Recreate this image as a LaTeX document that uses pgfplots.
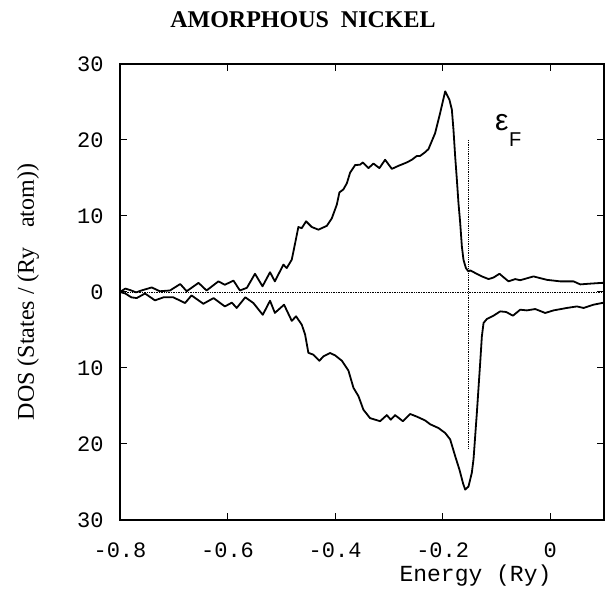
\documentclass[border=0pt]{standalone}
\usepackage{pgfplots}
\pgfplotsset{compat=1.18}
\usepackage{fontspec}
\setmainfont{Liberation Serif}
\newfontfamily\cour{Liberation Mono}
\newfontfamily\helv{Liberation Sans}

\begin{document}
\begin{tikzpicture}
\path[use as bounding box] (0pt,0pt) rectangle (606pt,589pt);
\node[font=\bfseries\fontsize{24}{24}\selectfont] at (303pt,569pt) {AMORPHOUS\ \ NICKEL};
\begin{axis}[
  at={(120pt,69pt)}, anchor=south west,
  scale only axis, width=484pt, height=456pt,
  xmin=-0.8, xmax=0.1, ymin=-30, ymax=30,
  xtick={-0.8,-0.6,-0.4,-0.2,0},
  xticklabels={-0.8,-0.6,-0.4,-0.2,0},
  ytick={-30,-20,-10,0,10,20,30},
  yticklabels={30,20,10,0,10,20,30},
  minor tick num=0,
  tick align=inside,
  major tick length=7pt,
  tick style={line width=1pt, black},
  axis line style={line width=1.5pt},
  ticklabel style={font=\cour\fontsize{22}{22}\selectfont},
  xticklabel style={yshift=-19pt},
  yticklabel style={xshift=-13pt},
  every axis y label/.style={at={(axis description cs:-0.19,0.5)}, rotate=90, anchor=center,
    font=\fontsize{24}{24}\selectfont},
  ylabel={DOS (States / (Ry\hspace{0.8em}atom))},
  clip=false,
]
% zero line and Fermi level
\addplot[densely dotted, line width=0.7pt] coordinates {(-0.8,0) (0.1,0)};
\addplot[densely dotted, line width=0.8pt] coordinates {(-0.1526,20) (-0.1526,-20.7)};
% majority band
\addplot[line width=1.8pt, line join=round] coordinates {
(-0.800,0.0) (-0.790,0.45) (-0.781,0.25) (-0.770,-0.05) (-0.760,0.2) (-0.741,0.6)
(-0.726,0.1) (-0.707,0.2) (-0.688,1.05) (-0.676,0.1) (-0.654,1.2) (-0.639,0.2)
(-0.617,1.4) (-0.605,0.95) (-0.589,1.5) (-0.577,0.2) (-0.564,0.55) (-0.549,2.4)
(-0.535,0.75) (-0.521,2.6) (-0.512,1.4) (-0.4962,3.6) (-0.4899,3.15) (-0.4806,4.25)
(-0.4744,6.4) (-0.4683,8.55) (-0.4620,8.4) (-0.4540,9.3) (-0.4434,8.55) (-0.4311,8.2)
(-0.4155,8.7) (-0.4061,9.7) (-0.3968,11.5) (-0.3920,13.1) (-0.3846,13.5) (-0.3782,14.3)
(-0.3721,15.7) (-0.3628,16.7) (-0.3535,16.75) (-0.3485,17.05) (-0.3380,16.3) (-0.3287,16.9)
(-0.3176,16.3) (-0.3070,17.4) (-0.2945,16.2) (-0.2822,16.6) (-0.2666,17.05) (-0.2573,17.4)
(-0.2480,17.9) (-0.2419,17.9) (-0.2326,18.4) (-0.2264,18.8) (-0.2140,20.9) (-0.2047,23.55)
(-0.1953,26.4) (-0.1874,25.3) (-0.1829,24.0) (-0.1799,21.35) (-0.1767,17.8) (-0.1736,14.8)
(-0.1706,11.7) (-0.1674,9.1) (-0.1643,6.0) (-0.1613,4.25) (-0.1568,3.15) (-0.1520,2.7)
(-0.1488,2.85) (-0.1395,2.5) (-0.1271,2.05) (-0.1147,1.7) (-0.1055,1.9) (-0.0943,2.4)
(-0.0869,1.95) (-0.0776,1.4) (-0.0651,1.7) (-0.0558,1.55) (-0.0311,2.05) (-0.0062,1.6)
(0.0186,1.4) (0.0433,1.4) (0.0558,1.0) (0.0744,1.1) (0.0962,1.2) (0.1,1.2)
};
% minority band
\addplot[line width=1.8pt, line join=round] coordinates {
(-0.800,0.0) (-0.790,-0.2) (-0.779,-0.7) (-0.769,-0.8) (-0.7535,-0.2) (-0.735,-1.1)
(-0.719,-0.7) (-0.701,-0.7) (-0.679,-1.45) (-0.667,-0.45) (-0.645,-1.55) (-0.626,-0.8)
(-0.605,-1.9) (-0.592,-1.4) (-0.583,-2.1) (-0.567,-0.7) (-0.552,-1.45) (-0.5345,-3.0)
(-0.521,-1.15) (-0.512,-2.75) (-0.4949,-1.67) (-0.4806,-3.8) (-0.4726,-3.2) (-0.4620,-4.3)
(-0.4558,-5.6) (-0.4497,-8.0) (-0.4404,-8.25) (-0.4292,-9.05) (-0.4218,-8.47) (-0.4093,-8.03)
(-0.4000,-8.34) (-0.3875,-9.04) (-0.3752,-10.35) (-0.3659,-12.6) (-0.3566,-13.7) (-0.3473,-15.5)
(-0.3349,-16.6) (-0.3163,-17.0) (-0.3039,-16.2) (-0.2964,-16.8) (-0.2884,-16.2) (-0.2740,-17.0)
(-0.2605,-16.05) (-0.2480,-16.4) (-0.2326,-16.9) (-0.2233,-17.4) (-0.2078,-17.9) (-0.1953,-18.55)
(-0.1860,-19.4) (-0.1767,-21.6) (-0.1687,-23.4) (-0.1620,-25.2) (-0.1581,-26.0) (-0.1520,-25.6)
(-0.1458,-23.8) (-0.1426,-22.0) (-0.1364,-15.9) (-0.1302,-9.3) (-0.1271,-5.85) (-0.1240,-4.08)
(-0.1178,-3.55) (-0.1055,-3.12) (-0.0930,-2.55) (-0.0819,-2.63) (-0.0694,-3.12) (-0.0558,-2.33)
(-0.0434,-2.42) (-0.0279,-2.24) (-0.0093,-2.76) (0.0062,-2.42) (0.0310,-2.1) (0.0496,-1.9)
(0.0620,-2.1) (0.0806,-1.67) (0.0962,-1.45) (0.1,-1.4)
};
\node[font=\helv\fontsize{30}{30}\selectfont] at (axis cs:-0.0899,22.3) {ε};
\node[font=\helv\fontsize{20}{20}\selectfont] at (axis cs:-0.0651,20.0) {F};
\end{axis}
\node[font=\cour\fontsize{23}{23}\selectfont] at (475.5pt,13pt) {Energy (Ry)};
\end{tikzpicture}
\end{document}
